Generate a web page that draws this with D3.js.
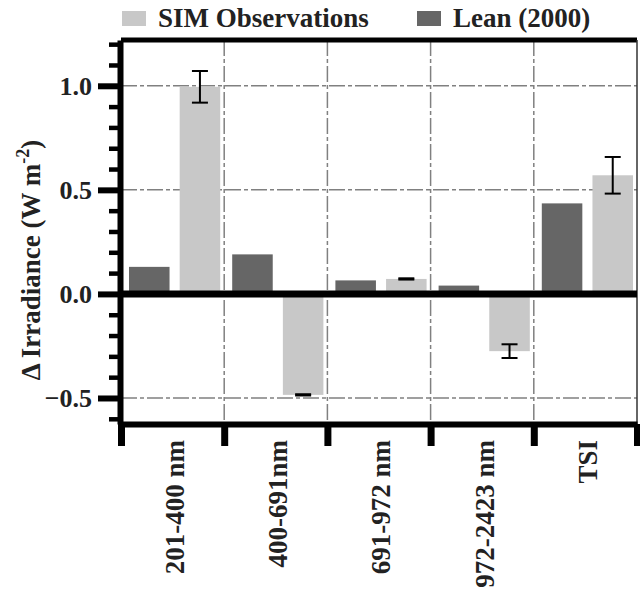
<!DOCTYPE html>
<html>
<head>
<meta charset="utf-8">
<script src="https://cdn.jsdelivr.net/npm/d3@7"></script>
<style>
body { margin: 0; background: #fff; }
</style>
</head>
<body>
<div id="chart"></div>
<script>
const categories = ['201-400 nm', '400-691nm', '691-972 nm', '972-2423 nm', 'TSI']
const series = ['Lean (2000)', 'SIM Observations']
const leanValues = [0.13, 0.19, 0.065, 0.04, 0.435]
const simValues = [0.995, -0.485, 0.072, -0.275, 0.57]
const simErrors = [0.076, 0.003, 0.003, 0.033, 0.088]
const majorTicks = [-0.5, 0.0, 0.5, 1.0]
const minorTicks = [-0.6, -0.4, -0.3, -0.2, -0.1, 0.1, 0.2, 0.3, 0.4, 0.6, 0.7, 0.8, 0.9, 1.1, 1.2]

const width = 640, height = 590
const margin = { top: 40, right: 3, bottom: 166, left: 121 }
const plotW = width - margin.left - margin.right
const plotH = height - margin.top - margin.bottom

const serif = "'Liberation Serif', 'Times New Roman', 'DejaVu Serif', serif"
const colors = { 'Lean (2000)': '#666666', 'SIM Observations': '#c8c8c8' }

let svg = d3.select('#chart')
.append('svg')
.attr('width', width)
.attr('height', height)
.style('font-family', serif)

let xScale = d3.scaleBand()
.domain(categories)
.range([margin.left, margin.left + plotW])

let xInner = d3.scaleBand()
.domain(series)
.range([8, xScale.bandwidth() - 4])
.paddingInner(0.2)

let yScale = d3.scaleLinear()
.domain([-0.625, 1.22])
.range([margin.top + plotH, margin.top])

let xEdges = d3.scaleLinear()
.domain([0, categories.length])
.range(xScale.range())

// grid
let grid = svg.append('g')
.attr('stroke', '#808080')
.attr('stroke-width', 1.5)
.attr('stroke-dasharray', '16,3,4,3')

grid.selectAll('.hgrid')
.data(majorTicks.filter(d => d != 0))
.join('line')
.attr('class', 'hgrid')
.attr('x1', margin.left)
.attr('x2', margin.left + plotW)
.attr('y1', d => yScale(d))
.attr('y2', d => yScale(d))

grid.selectAll('.vgrid')
.data(d3.range(1, categories.length))
.join('line')
.attr('class', 'vgrid')
.attr('x1', d => xEdges(d))
.attr('x2', d => xEdges(d))
.attr('y1', margin.top)
.attr('y2', margin.top + plotH)

// bars
let rows = categories.map((c, i) => ({
	cat: c,
	vals: [
		{ key: series[0], v: leanValues[i] },
		{ key: series[1], v: simValues[i], err: simErrors[i] }
	]
}))

let groups = svg.selectAll('.cat')
.data(rows)
.join('g')
.attr('class', 'cat')
.attr('transform', d => `translate(${xScale(d.cat)},0)`)

groups.selectAll('rect')
.data(d => d.vals)
.join('rect')
.attr('x', d => xInner(d.key))
.attr('width', xInner.bandwidth())
.attr('y', d => yScale(Math.max(0, d.v)))
.attr('height', d => Math.abs(yScale(d.v) - yScale(0)))
.attr('fill', d => colors[d.key])

// error bars
let eb = groups.selectAll('.err')
.data(d => d.vals.filter(v => v.err != null))
.join('g')
.attr('class', 'err')
.attr('stroke', '#000')
.attr('stroke-width', 2)

const cap = 8
eb.append('line')
.attr('x1', d => xInner(d.key) + xInner.bandwidth() / 2)
.attr('x2', d => xInner(d.key) + xInner.bandwidth() / 2)
.attr('y1', d => yScale(d.v + d.err))
.attr('y2', d => yScale(d.v - d.err))

eb.selectAll('.capline')
.data(d => [d.v + d.err, d.v - d.err].map(y => ({ y, d })))
.join('line')
.attr('class', 'capline')
.attr('x1', o => xInner(o.d.key) + xInner.bandwidth() / 2 - cap)
.attr('x2', o => xInner(o.d.key) + xInner.bandwidth() / 2 + cap)
.attr('y1', o => yScale(o.y))
.attr('y2', o => yScale(o.y))

// frame
svg.append('line')
.attr('x1', margin.left).attr('x2', margin.left + plotW)
.attr('y1', margin.top).attr('y2', margin.top)
.attr('stroke', '#000').attr('stroke-width', 5)

svg.append('line')
.attr('x1', margin.left + plotW).attr('x2', margin.left + plotW)
.attr('y1', margin.top).attr('y2', margin.top + plotH)
.attr('stroke', '#333').attr('stroke-width', 1.5)

svg.append('line')
.attr('x1', margin.left).attr('x2', margin.left + plotW)
.attr('y1', yScale(0)).attr('y2', yScale(0))
.attr('stroke', '#000').attr('stroke-width', 7)

// y axis
let yMinor = svg.append('g')
.attr('transform', `translate(${margin.left - 1},0)`)
.call(d3.axisLeft(yScale).tickValues(minorTicks).tickSize(11).tickFormat(''))
yMinor.select('.domain').remove()
yMinor.selectAll('line').attr('stroke-width', 4.5)

let yAxis = svg.append('g')
.attr('transform', `translate(${margin.left - 1},0)`)
.call(d3.axisLeft(yScale).tickValues(majorTicks).tickSize(22).tickPadding(6).tickSizeOuter(0).tickFormat(d3.format('.1f')))
yAxis.attr('font-family', null)
yAxis.select('.domain').attr('stroke-width', 6)
yAxis.selectAll('line').attr('stroke-width', 6)
yAxis.selectAll('text')
.style('font-family', serif)
.style('font-size', '26px')
.style('font-weight', 'bold')
.attr('fill', '#222')

// x axis
let xAxis = svg.append('g')
.attr('transform', `translate(0,${margin.top + plotH})`)
.call(d3.axisBottom(xEdges).ticks(categories.length).tickSize(22).tickSizeOuter(0).tickFormat(''))
xAxis.select('.domain').attr('stroke-width', 6)
xAxis.selectAll('line').attr('stroke-width', 7)

svg.selectAll('.xlab')
.data(categories)
.join('text')
.attr('class', 'xlab')
.attr('transform', d => `translate(${xScale(d) + xScale.bandwidth() / 2 + 2},440) rotate(-90)`)
.attr('text-anchor', 'end')
.attr('dy', '0.35em')
.style('font-family', serif)
.style('font-size', '27px')
.style('font-weight', 'bold')
.attr('fill', '#222')
.text(d => d)

// y title
let yTitle = svg.append('text')
.attr('transform', `translate(40,260) rotate(-90)`)
.attr('text-anchor', 'middle')
.style('font-family', serif)
.style('font-size', '27px')
.style('font-weight', 'bold')
.attr('fill', '#222')
yTitle.append('tspan').text('\u0394 Irradiance (W m')
yTitle.append('tspan').attr('dy', -11).style('font-size', '18px').text('-2')
yTitle.append('tspan').attr('dy', 11).text(')')

// legend
let legendX = [122, 417]
let legendItems = [series[1], series[0]]
let leg = svg.selectAll('.leg')
.data(legendItems)
.join('g')
.attr('class', 'leg')
.attr('transform', (d, i) => `translate(${legendX[i]},0)`)

leg.append('rect')
.attr('y', 11)
.attr('width', 24)
.attr('height', 15)
.attr('fill', d => colors[d])

leg.append('text')
.attr('x', 36)
.attr('y', 27)
.style('font-family', serif)
.style('font-size', '27px')
.style('font-weight', 'bold')
.attr('fill', '#222')
.text(d => d)
</script>
</body>
</html>
